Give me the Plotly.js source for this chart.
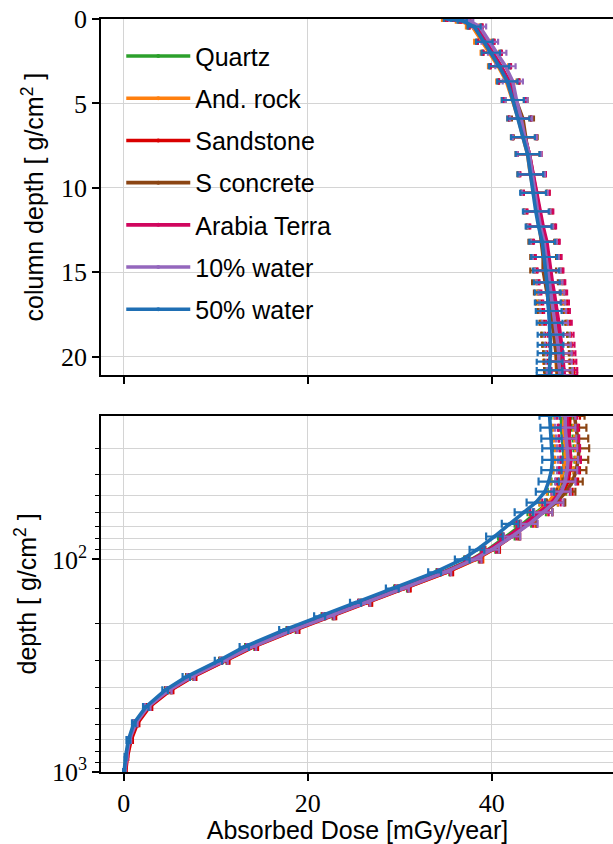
<!DOCTYPE html>
<html>
<head>
<meta charset="utf-8">
<script src="https://cdn.plot.ly/plotly-3.0.1.min.js"></script>
<style>
html, body { margin: 0; padding: 0; overflow: hidden; background: #fff; }
#chart { width: 616px; height: 844px; }
</style>
</head>
<body>
<div id="chart"></div>
<script>
// ---------- data ----------
const materials = ["Quartz", "And. rock", "Sandstone", "S concrete", "Arabia Terra", "10% water", "50% water"];
const colors = ["#2ca02c", "#ff7f0e", "#d90000", "#8b4513", "#d0065e", "#9467bd", "#1f6fb4"];

// upper panel: column depth [g/cm2] (linear)
const depthTop = [0, 0.1, 0.45, 1.35, 2.0, 2.8, 3.7, 4.8, 5.9, 7.0, 8.0, 9.2, 10.3, 11.4, 12.3, 13.2, 14.1, 14.9, 15.6, 16.2, 16.8, 17.3, 18.0, 18.7, 19.3, 19.8, 20.3, 20.8, 21.1];
const quartzTop   = [35.4, 37.0, 38.2, 39.3, 40.0, 40.9, 41.8, 42.5, 43.1, 43.6, 44.0, 44.3, 44.6, 45.0, 45.3, 45.7, 45.9, 46.1, 46.3, 46.4, 46.5, 46.6, 46.8, 46.9, 47.0, 47.1, 47.1, 47.2, 47.2];
const andRockTop  = [35.0, 36.6, 37.9, 39.0, 39.8, 40.7, 41.6, 42.3, 42.9, 43.4, 43.9, 44.2, 44.6, 44.9, 45.2, 45.6, 45.8, 46.0, 46.2, 46.3, 46.4, 46.5, 46.7, 46.8, 46.9, 47.0, 47.0, 47.1, 47.1];
const sandTop     = [35.6, 37.2, 38.3, 39.4, 40.1, 41.0, 41.9, 42.5, 43.1, 43.6, 44.1, 44.5, 44.9, 45.2, 45.5, 45.9, 46.1, 46.3, 46.5, 46.6, 46.8, 46.9, 47.1, 47.2, 47.3, 47.4, 47.5, 47.6, 47.6];
const concreteTop = [35.3, 36.9, 38.1, 39.2, 40.0, 40.9, 41.9, 42.7, 43.4, 43.7, 44.0, 44.3, 44.6, 44.9, 45.2, 45.4, 45.6, 45.6, 45.8, 46.0, 46.2, 46.4, 46.6, 46.8, 46.9, 47.0, 47.1, 47.1, 47.2];
const arabiaTop   = [35.5, 37.1, 38.3, 39.4, 40.1, 41.0, 41.9, 42.5, 43.1, 43.6, 44.1, 44.5, 44.9, 45.3, 45.6, 46.0, 46.2, 46.4, 46.6, 46.8, 47.0, 47.1, 47.3, 47.5, 47.6, 47.7, 47.8, 47.9, 47.9];
const water10Top  = [35.8, 37.5, 38.7, 39.8, 40.6, 41.5, 42.3, 42.7, 43.2, 43.6, 44.1, 44.4, 44.7, 45.0, 45.3, 45.7, 45.9, 46.1, 46.3, 46.5, 46.6, 46.7, 46.9, 47.1, 47.2, 47.3, 47.3, 47.4, 47.4];
const water50Top  = [35.2, 36.8, 38.1, 39.2, 39.9, 40.8, 41.7, 42.3, 42.9, 43.4, 43.9, 44.2, 44.5, 44.8, 45.1, 45.5, 45.7, 45.9, 46.0, 46.1, 46.1, 46.2, 46.3, 46.4, 46.4, 46.4, 46.3, 46.3, 46.3];
const errTop      = [0.4, 0.5, 0.7, 0.9, 1.0, 1.1, 1.1, 1.2, 1.2, 1.3, 1.3, 1.4, 1.4, 1.4, 1.4, 1.4, 1.4, 1.4, 1.4, 1.4, 1.4, 1.4, 1.4, 1.4, 1.4, 1.4, 1.4, 1.4, 1.4];

// lower panel: depth [g/cm2] (log)
const depthBot = [21.1, 24, 27, 30, 34, 38, 43, 48, 54, 60, 68, 78, 90, 100, 115, 137, 160, 185, 215, 258, 300, 357, 412, 494, 590, 708, 850, 1000];
const quartzBot   = [47.6, 47.6, 47.7, 47.8, 47.9, 47.8, 47.6, 47.1, 46.2, 44.9, 43.4, 41.6, 39.6, 37.8, 34.7, 30.1, 26.1, 22.1, 18.2, 13.7, 10.8, 7.2, 4.8, 2.6, 1.3, 0.6, 0.25, 0.1];
const andRockBot  = [47.9, 47.8, 47.9, 48.0, 48.0, 47.8, 47.5, 47.0, 46.2, 45.1, 43.8, 42.1, 40.1, 38.3, 35.1, 30.4, 26.4, 22.4, 18.5, 14.0, 11.0, 7.4, 5.0, 2.7, 1.4, 0.7, 0.3, 0.15];
const sandBot     = [48.5, 48.4, 48.4, 48.5, 48.6, 48.5, 48.3, 47.8, 46.9, 45.6, 44.0, 42.2, 40.1, 38.2, 35.1, 30.5, 26.4, 22.5, 18.6, 14.1, 11.1, 7.5, 5.1, 2.8, 1.5, 0.8, 0.4, 0.2];
const concreteBot = [49.0, 49.2, 49.4, 49.5, 49.4, 49.2, 48.8, 48.1, 47.0, 45.6, 44.0, 42.0, 39.9, 38.0, 34.8, 30.2, 26.2, 22.2, 18.3, 13.8, 10.8, 7.2, 4.8, 2.6, 1.3, 0.6, 0.3, 0.1];
const arabiaBot   = [48.2, 48.3, 48.4, 48.5, 48.6, 48.4, 48.1, 47.5, 46.5, 45.2, 43.6, 41.8, 39.7, 37.9, 34.8, 30.2, 26.1, 22.2, 18.3, 13.8, 10.9, 7.3, 4.9, 2.6, 1.3, 0.6, 0.3, 0.1];
const water10Bot  = [48.0, 48.0, 48.1, 48.2, 48.3, 48.2, 48.0, 47.6, 46.8, 45.6, 44.1, 42.2, 40.0, 38.1, 34.9, 30.3, 26.2, 22.3, 18.4, 13.9, 10.9, 7.3, 4.9, 2.6, 1.3, 0.6, 0.3, 0.1];
const water50Bot  = [46.3, 46.4, 46.5, 46.6, 46.6, 46.5, 46.2, 45.8, 44.8, 43.5, 42.0, 40.3, 38.4, 36.8, 33.8, 29.2, 25.2, 21.3, 17.4, 13.1, 10.3, 6.8, 4.5, 2.4, 1.1, 0.5, 0.2, 0.05];
const errBot      = [1.1, 1.1, 1.1, 1.1, 1.1, 1.1, 1.1, 1.0, 1.0, 1.0, 0.9, 0.9, 0.8, 0.8, 0.7, 0.7, 0.6, 0.6, 0.5, 0.5, 0.4, 0.4, 0.3, 0.3, 0.2, 0.2, 0.1, 0.1];

const xTickVals = [0, 20, 40];
const yTopTickVals = [0, 5, 10, 15, 20];
const yBotTickVals = [100, 1000];
const yBotTickText = ["10<sup>2</sup>", "10<sup>3</sup>"];
const yBotMinor = [30, 40, 50, 60, 70, 80, 90, 200, 300, 400, 500, 600, 700, 800, 900];

// ---------- traces ----------
const topSeries = [quartzTop, andRockTop, sandTop, concreteTop, arabiaTop, water10Top, water50Top];
const botSeries = [quartzBot, andRockBot, sandBot, concreteBot, arabiaBot, water10Bot, water50Bot];

const traces = [];
materials.forEach((name, i) => {
  traces.push({
    type: "scatter", mode: "lines+markers", name: name,
    x: topSeries[i], y: depthTop, xaxis: "x2", yaxis: "y",
    line: { color: colors[i], width: 3.6 },
    marker: { color: colors[i], size: 4 },
    error_x: { type: "data", array: errTop, visible: true, color: colors[i], thickness: 2.2, width: 3 },
    legendgroup: "g" + i, showlegend: true
  });
});
materials.forEach((name, i) => {
  traces.push({
    type: "scatter", mode: "lines+markers", name: name,
    x: botSeries[i], y: depthBot, xaxis: "x", yaxis: "y2",
    line: { color: colors[i], width: 3.6 },
    marker: { color: colors[i], size: 4 },
    error_x: { type: "data", array: errBot, visible: true, color: colors[i], thickness: 2.2, width: 4 },
    legendgroup: "g" + i, showlegend: false
  });
});

const tickFont = { family: "Liberation Serif, serif", size: 26, color: "#000" };
const titleFont = { family: "Liberation Sans, Arial, sans-serif", size: 25, color: "#000" };
const gridColor = "#d4d4d4";
const xRange = [-2.47, 53.3];

const layout = {
  width: 616, height: 844,
  margin: { l: 101, r: 2, t: 19, b: 72 },
  paper_bgcolor: "#fff", plot_bgcolor: "#fff",
  showlegend: true,
  legend: {
    x: 0.0395, y: 0.981, xanchor: "left", yanchor: "top",
    bgcolor: "rgba(255,255,255,0)", borderwidth: 0,
    font: { family: "Liberation Sans, Arial, sans-serif", size: 25, color: "#000" },
    tracegroupgap: 6.7, itemwidth: 64
  },
  xaxis: {
    domain: [0, 1], anchor: "y2", range: xRange,
    tickvals: xTickVals, ticks: "outside", ticklen: 7, tickwidth: 1.5, tickcolor: "#000",
    showline: true, linecolor: "#000", linewidth: 1.5, mirror: true,
    showgrid: true, gridcolor: gridColor, gridwidth: 1.2, zeroline: false,
    tickfont: tickFont,
    title: { text: "Absorbed Dose [mGy/year]", font: titleFont, standoff: 6 }
  },
  xaxis2: {
    domain: [0, 1], anchor: "y", range: xRange, matches: "x",
    tickvals: xTickVals, ticks: "outside", ticklen: 7, tickwidth: 1.5, tickcolor: "#000",
    showticklabels: false,
    showline: true, linecolor: "#000", linewidth: 1.5, mirror: true,
    showgrid: true, gridcolor: gridColor, gridwidth: 1.2, zeroline: false
  },
  yaxis: {
    domain: [0.527, 1], anchor: "x2", range: [21.1, 0],
    tickvals: yTopTickVals, ticks: "outside", ticklen: 7, tickwidth: 1.5, tickcolor: "#000",
    showline: true, linecolor: "#000", linewidth: 1.5, mirror: true,
    showgrid: true, gridcolor: gridColor, gridwidth: 1.2, zeroline: false,
    tickfont: tickFont,
    title: { text: "column depth [ g/cm<sup>2</sup> ]", font: titleFont, standoff: 10 }
  },
  yaxis2: {
    domain: [0, 0.473], anchor: "x", type: "log", range: [3, Math.log10(21.1)],
    tickvals: yBotTickVals, ticktext: yBotTickText,
    ticks: "outside", ticklen: 7, tickwidth: 1.5, tickcolor: "#000",
    showline: true, linecolor: "#000", linewidth: 1.5, mirror: true,
    showgrid: true, gridcolor: gridColor, gridwidth: 1.2, zeroline: false,
    tickfont: tickFont,
    minor: { tickmode: "array", tickvals: yBotMinor, ticks: "outside", ticklen: 4, tickwidth: 1, tickcolor: "#000",
             showgrid: true, gridcolor: gridColor, gridwidth: 1.2 },
    title: { text: "depth [ g/cm<sup>2</sup> ]", font: titleFont, standoff: 8 }
  }
};

Plotly.newPlot("chart", traces, layout, { displayModeBar: false, responsive: false });
</script>
</body>
</html>
